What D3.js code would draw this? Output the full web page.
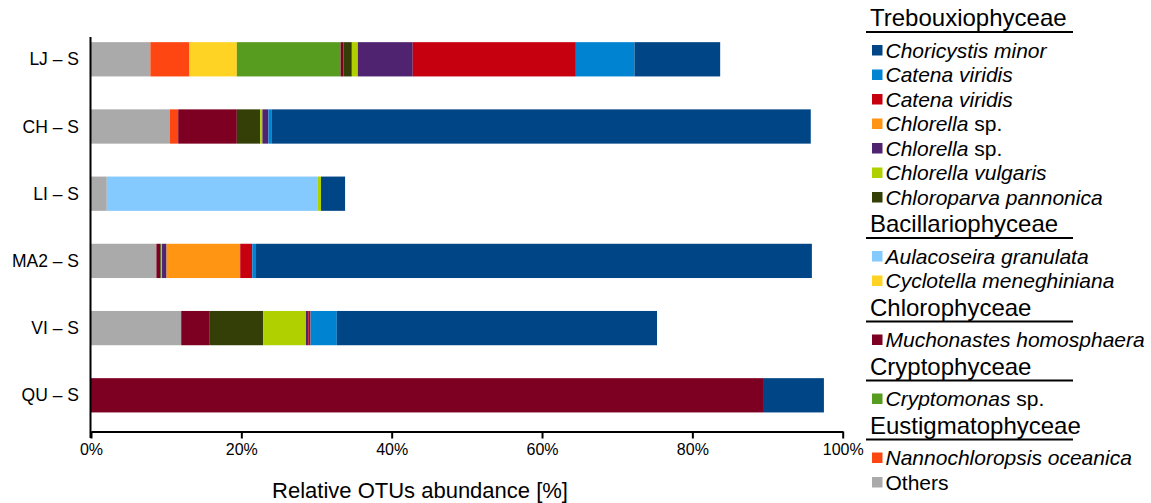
<!DOCTYPE html>
<html>
<head>
<meta charset="utf-8">
<script src="https://cdn.jsdelivr.net/npm/d3@7"></script>
<style>
  html, body { margin: 0; padding: 0; background: #fff; }
  svg { display: block; font-family: Arial, "Liberation Sans", sans-serif; }
</style>
</head>
<body>
<svg id="chart" width="1151" height="503"></svg>
<script>
// Samples (one horizontal bar each, top to bottom)
const samples = ["LJ – S", "CH – S", "LI – S", "MA2 – S", "VI – S", "QU – S"];

// Relative OTU abundance [%] per taxon, in sample order
const others            = [7.9, 10.5, 2.1, 8.7, 12.0, 0];
const nannochloropsis   = [5.2, 1.1, 0, 0, 0, 0];
const aulacoseira       = [0, 0, 28.0, 0, 0, 0];
const cyclotella        = [6.3, 0, 0, 0, 0, 0];
const cryptomonas       = [13.8, 0, 0, 0, 0, 0];
const muchonastes       = [0.4, 7.8, 0, 0.5, 3.8, 89.4];
const chloroparva       = [1.1, 3.1, 0, 0.1, 7.1, 0];
const chlorellaVulgaris = [0.8, 0.3, 0.5, 0.15, 5.7, 0];
const chlorellaSpA      = [7.3, 0.8, 0, 0.6, 0.3, 0];
const chlorellaSpB      = [0, 0, 0, 9.8, 0, 0];
const catenaViridisA    = [21.7, 0, 0, 1.6, 0.3, 0];
const catenaViridisB    = [7.8, 0.4, 0, 0.5, 3.5, 0];
const choricystis       = [11.4, 71.75, 3.2, 73.95, 42.6, 8.1];

// Axis ticks
const xTicks = [0, 20, 40, 60, 80, 100];

// Taxa: key, label parts (italic flag), colour, values
const taxa = [
  { key: "others", parts: [["Others", false]], color: "#aaaaaa", values: others },
  { key: "nanno", parts: [["Nannochloropsis oceanica", true]], color: "#fd4612", values: nannochloropsis },
  { key: "aula", parts: [["Aulacoseira granulata", true]], color: "#84caff", values: aulacoseira },
  { key: "cyclo", parts: [["Cyclotella meneghiniana", true]], color: "#ffd324", values: cyclotella },
  { key: "crypto", parts: [["Cryptomonas", true], [" sp.", false]], color: "#579c1f", values: cryptomonas },
  { key: "mucho", parts: [["Muchonastes homosphaera", true]], color: "#7d0023", values: muchonastes },
  { key: "chloroparva", parts: [["Chloroparva pannonica", true]], color: "#333f06", values: chloroparva },
  { key: "vulgaris", parts: [["Chlorella vulgaris", true]], color: "#b0d000", values: chlorellaVulgaris },
  { key: "chlA", parts: [["Chlorella", true], [" sp.", false]], color: "#4f2370", values: chlorellaSpA },
  { key: "chlB", parts: [["Chlorella", true], [" sp.", false]], color: "#ff9512", values: chlorellaSpB },
  { key: "catA", parts: [["Catena viridis", true]], color: "#c6000f", values: catenaViridisA },
  { key: "catB", parts: [["Catena viridis", true]], color: "#0083d1", values: catenaViridisB },
  { key: "chori", parts: [["Choricystis minor", true]], color: "#004586", values: choricystis }
];
const byKey = Object.fromEntries(taxa.map(t => [t.key, t]));

// Legend grouped by class
const legendGroups = [
  { header: "Trebouxiophyceae", items: ["chori", "catB", "catA", "chlB", "chlA", "vulgaris", "chloroparva"] },
  { header: "Bacillariophyceae", items: ["aula", "cyclo"] },
  { header: "Chlorophyceae", items: ["mucho"] },
  { header: "Cryptophyceae", items: ["crypto"] },
  { header: "Eustigmatophyceae", items: ["nanno", "others"] }
];

const svg = d3.select("#chart");

// Scales
const x = d3.scaleLinear().domain([0, 100]).range([91, 842.7]);
const y = d3.scaleBand().domain(samples).range([25.7, 428.9])
  .paddingInner(0.49).paddingOuter(0.245);

// Stack the taxa per sample
const rows = samples.map((s, i) => {
  const r = { sample: s };
  taxa.forEach(t => { r[t.key] = t.values[i]; });
  return r;
});
const stack = d3.stack().keys(taxa.map(t => t.key));
const series = stack(rows);

svg.append("g").selectAll("g")
  .data(series)
  .join("g")
  .attr("fill", d => byKey[d.key].color)
  .selectAll("rect")
  .data(d => d.filter(p => p[1] - p[0] > 0))
  .join("rect")
  .attr("x", p => x(p[0]))
  .attr("y", p => y(p.data.sample))
  .attr("width", p => x(p[1]) - x(p[0]))
  .attr("height", y.bandwidth());

// X axis
const xAxis = d3.axisBottom(x)
  .tickValues(xTicks)
  .tickFormat(d => d + "%")
  .tickSize(7)
  .tickSizeOuter(0);
const gx = svg.append("g")
  .attr("transform", "translate(0,431.5)")
  .call(xAxis);
gx.select(".domain").attr("stroke", "#000").attr("stroke-width", 2);
gx.selectAll(".tick line").attr("stroke", "#000").attr("stroke-width", 2);
gx.selectAll(".tick text")
  .attr("fill", "#000")
  .attr("font-size", 16)
  .attr("font-family", "Arial, 'Liberation Sans', sans-serif")
  .attr("dy", "0.71em")
  .attr("y", 12);

// Y axis line
svg.append("line")
  .attr("x1", 90.5).attr("x2", 90.5)
  .attr("y1", 37).attr("y2", 438)
  .attr("stroke", "#000").attr("stroke-width", 2);

// Sample labels
svg.append("g").selectAll("text")
  .data(samples)
  .join("text")
  .attr("x", 79)
  .attr("y", d => y(d) + y.bandwidth() / 2)
  .attr("dy", "0.35em")
  .attr("text-anchor", "end")
  .attr("font-size", 17.5)
  .attr("fill", "#000")
  .text(d => d);

// Axis title
svg.append("text")
  .attr("x", 420)
  .attr("y", 498)
  .attr("text-anchor", "middle")
  .attr("font-size", 22)
  .attr("fill", "#000")
  .text("Relative OTUs abundance [%]");

// Legend
const legend = svg.append("g");
const lgX = 870, headerToItem = 32.5, itemStep = 24.5, itemToHeader = 26.5;
let cy = 18;
legendGroups.forEach((g, gi) => {
  if (gi > 0) cy += itemToHeader;
  legend.append("text")
    .attr("x", lgX)
    .attr("y", cy)
    .attr("dy", "0.35em")
    .attr("font-size", 24)
    .attr("fill", "#000")
    .text(g.header);
  legend.append("line")
    .attr("x1", 866).attr("x2", 1073)
    .attr("y1", cy + 14).attr("y2", cy + 14)
    .attr("stroke", "#000").attr("stroke-width", 2);
  g.items.forEach((k, ii) => {
    cy += ii === 0 ? headerToItem : itemStep;
    const t = byKey[k];
    legend.append("rect")
      .attr("x", 872).attr("y", cy - 5.5)
      .attr("width", 10.5).attr("height", 10.5)
      .attr("fill", t.color);
    const txt = legend.append("text")
      .attr("x", 885.5)
      .attr("y", cy)
      .attr("dy", "0.35em")
      .attr("font-size", 21)
      .attr("fill", "#000");
    t.parts.forEach(([s, it]) => {
      txt.append("tspan")
        .attr("font-style", it ? "italic" : "normal")
        .text(s);
    });
  });
});
</script>
</body>
</html>
